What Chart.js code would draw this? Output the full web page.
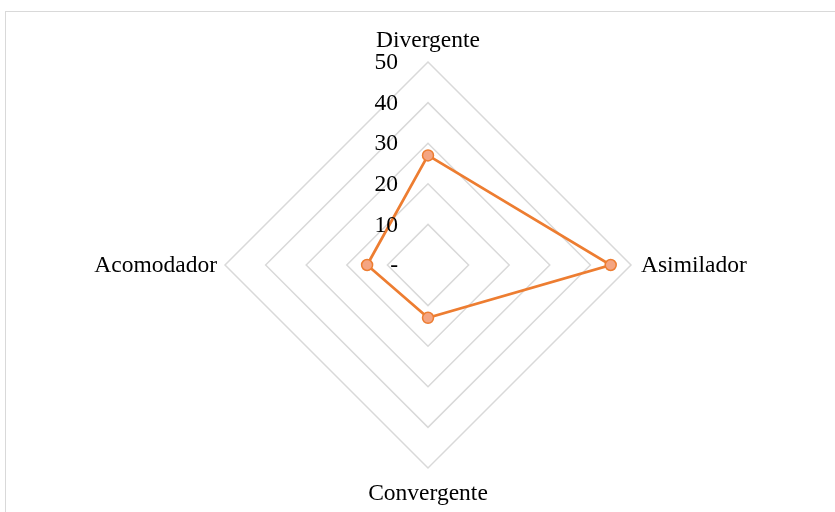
<!DOCTYPE html>
<html>
<head>
<meta charset="utf-8">
<script src="https://cdn.jsdelivr.net/npm/chart.js@4"></script>
<style>
  html, body { margin: 0; padding: 0; background: #fff; overflow: hidden; }
  #frame { position: absolute; left: 5px; top: 11px; width: 900px; height: 600px;
           border: 1.5px solid #d9d9d9; box-sizing: border-box; }
  #wrap { position: absolute; left: 0; top: 0; width: 835px; height: 512px; }
</style>
</head>
<body>
<div id="frame"></div>
<div id="wrap"><canvas id="radar" width="835" height="512"></canvas></div>
<script>
// estilos de aprendizaje (Kolb)
const categorias = ['Divergente', 'Asimilador', 'Convergente', 'Acomodador']
const valores = [27, 45, 13, 15]
const tickLabels = ['-', '10', '20', '30', '40', '50']

const FONT = '23.5px "Liberation Serif", "DejaVu Serif", serif'
const ORANGE = '#ED7D31'

// tick labels sit left of the vertical axis, point labels around the outer ring
const textPlugin = {
  id: 'textPlugin',
  afterDraw(chart) {
    const r = chart.scales.r
    const ctx = chart.ctx
    ctx.save()
    ctx.font = FONT
    ctx.fillStyle = '#000'

    ctx.textAlign = 'right'
    ctx.textBaseline = 'middle'
    r.ticks.forEach((t, i) => {
      const y = r.yCenter - r.getDistanceFromCenterForValue(t.value)
      ctx.fillText(tickLabels[i] ?? t.value, r.xCenter - 30, y + 1)
    })

    categorias.forEach((name, i) => {
      const p = r.getPointPosition(i, r.drawingArea)
      if (i === 0) {
        ctx.textAlign = 'center'; ctx.textBaseline = 'alphabetic'
        ctx.fillText(name, p.x, p.y - 15)
      } else if (i === 2) {
        ctx.textAlign = 'center'; ctx.textBaseline = 'alphabetic'
        ctx.fillText(name, p.x, p.y + 32)
      } else if (i === 1) {
        ctx.textAlign = 'left'; ctx.textBaseline = 'middle'
        ctx.fillText(name, p.x + 10, p.y + 1)
      } else {
        ctx.textAlign = 'right'; ctx.textBaseline = 'middle'
        ctx.fillText(name, p.x - 8, p.y + 1)
      }
    })
    ctx.restore()
  },
}

new Chart(document.getElementById('radar'), {
  type: 'radar',
  data: {
    labels: categorias,
    datasets: [{
      label: 'Estilo',
      data: valores,
      borderColor: ORANGE,
      borderWidth: 2.75,
      backgroundColor: 'transparent',
      pointBackgroundColor: '#F4A582',
      pointBorderColor: ORANGE,
      pointBorderWidth: 1.5,
      pointRadius: 5.5,
      fill: false,
    }],
  },
  options: {
    responsive: false,
    animation: false,
    layout: { padding: { left: 225, right: 204, top: 62, bottom: 44 } },
    scales: {
      r: {
        min: 0, max: 50,
        ticks: { stepSize: 10, display: false },
        grid: { color: '#d9d9d9', lineWidth: 1.5 },
        angleLines: { display: false },
        pointLabels: { display: false },
      },
    },
    plugins: {
      legend: { display: false },
      tooltip: { enabled: false },
    },
  },
  plugins: [textPlugin],
})
</script>
</body>
</html>
